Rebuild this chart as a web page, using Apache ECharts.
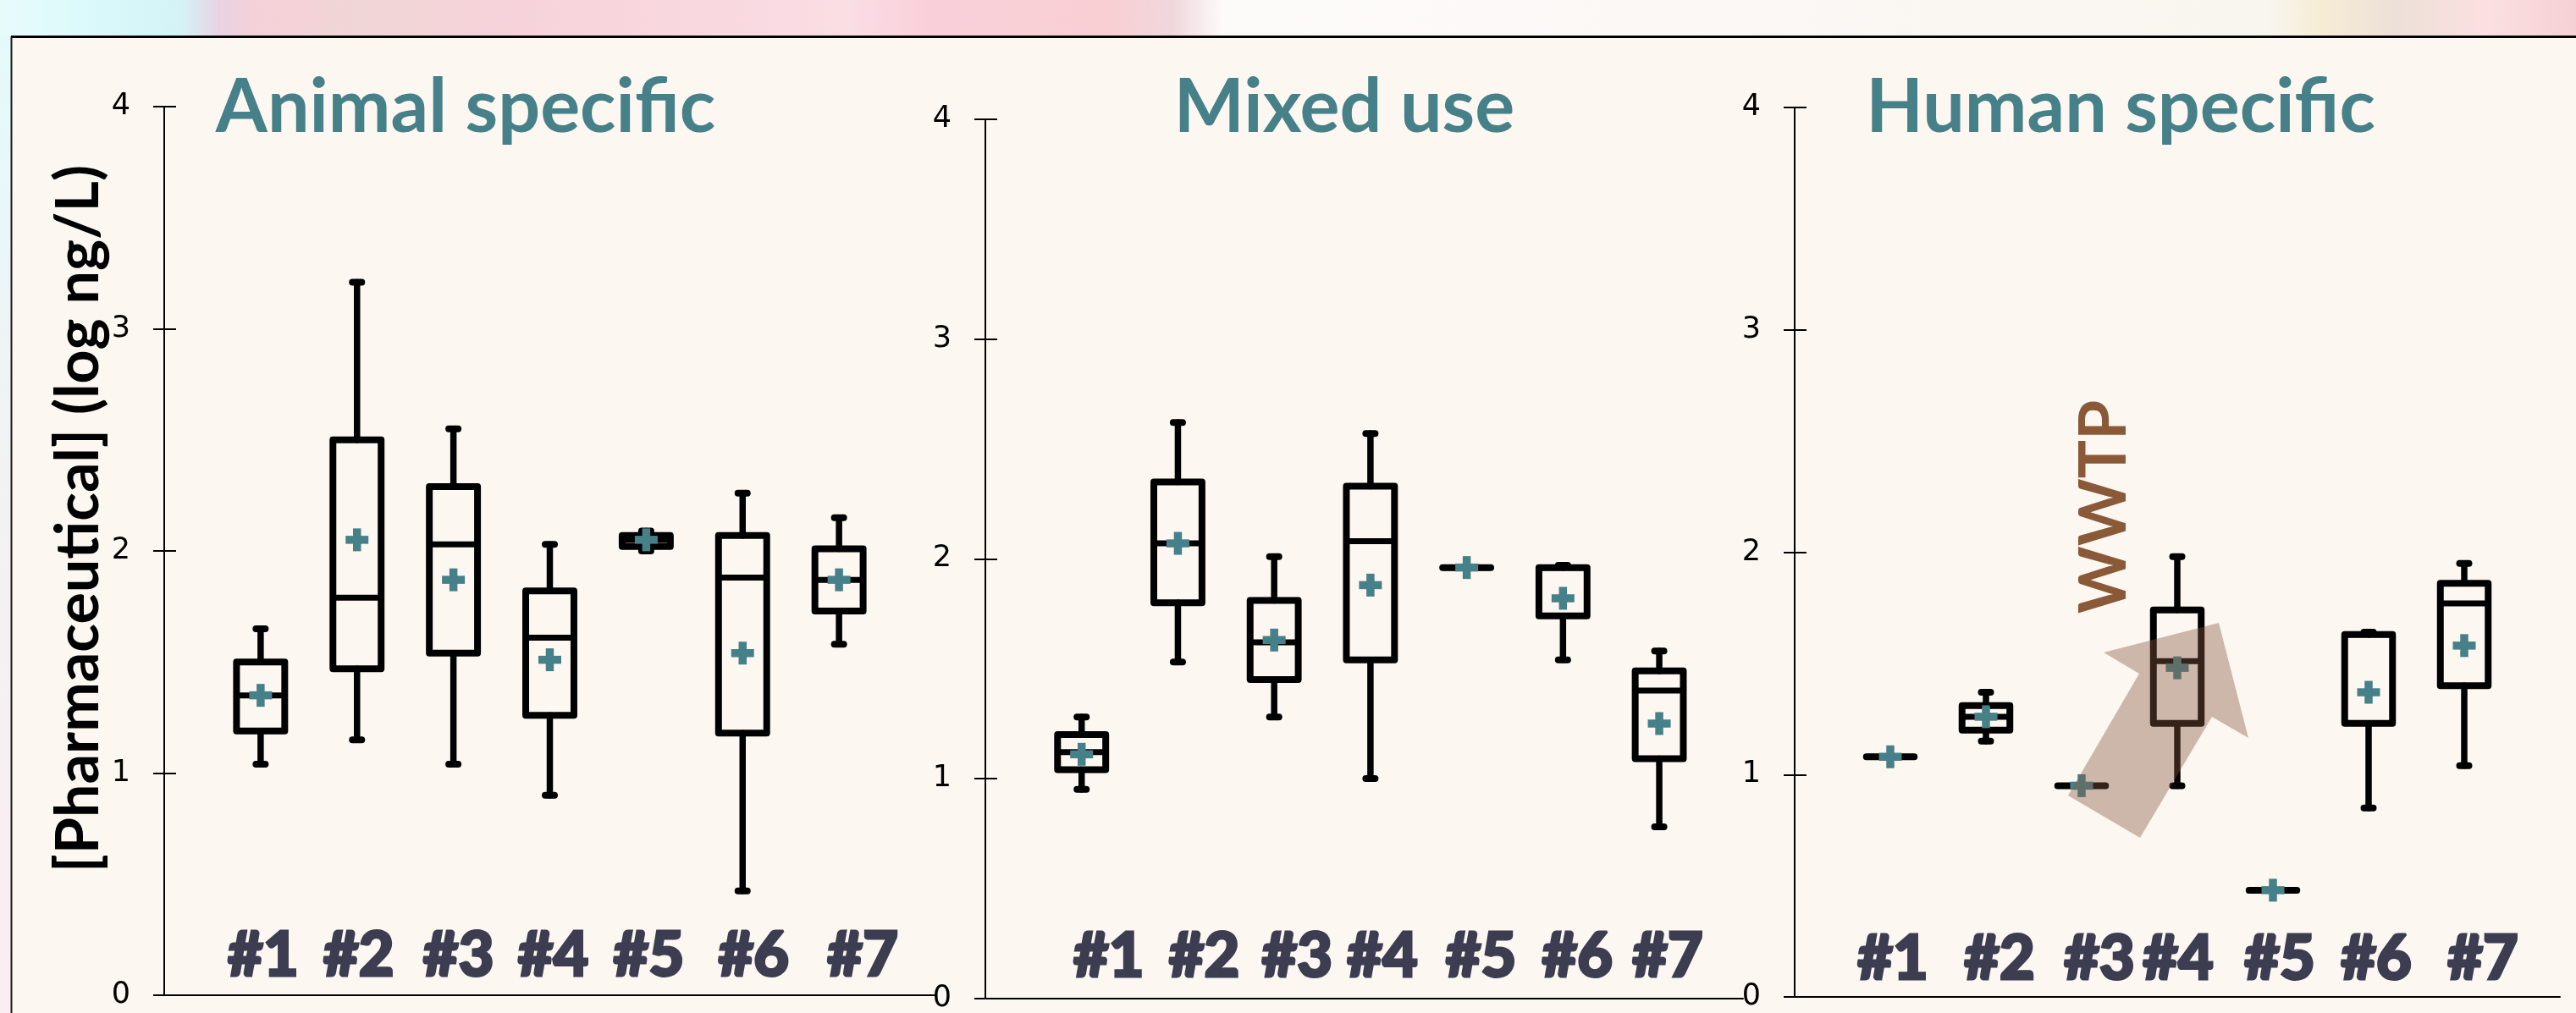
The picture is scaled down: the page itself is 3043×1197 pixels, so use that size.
<!DOCTYPE html>
<html><head><meta charset="utf-8">
<script src="https://cdn.jsdelivr.net/npm/echarts@6/dist/echarts.min.js"></script>
<style>html,body{margin:0;padding:0;background:#fdf7f1}#c{width:3043px;height:1197px}</style>
</head><body><div id="c"></div>
<script>
// ---------- data ----------
const categories = ['#1', '#2', '#3', '#4', '#5', '#6', '#7'];
const panelTitles = ['Animal specific', 'Mixed use', 'Human specific'];
const yAxisName = '[Pharmaceutical] (log ng/L)';
const annotationText = 'WWTP';
const yTickValues = [0, 1, 2, 3, 4];

// Animal specific
const animalLow    = [1.04, 1.15, 1.04, 0.90, 2.00, 0.47, 1.58];
const animalQ1     = [1.19, 1.47, 1.54, 1.26, 2.02, 1.18, 1.73];
const animalMedian = [1.35, 1.79, 2.03, 1.61, 2.05, 1.88, 1.87];
const animalQ3     = [1.50, 2.50, 2.29, 1.82, 2.07, 2.07, 2.01];
const animalHigh   = [1.65, 3.21, 2.55, 2.03, 2.09, 2.26, 2.15];
const animalMean   = [1.35, 2.05, 1.87, 1.51, 2.05, 1.54, 1.87];

// Mixed use
const mixedLow    = [0.95, 1.53, 1.28, 1.00, 1.96, 1.54, 0.78];
const mixedQ1     = [1.04, 1.80, 1.45, 1.54, 1.96, 1.74, 1.09];
const mixedMedian = [1.12, 2.07, 1.62, 2.08, 1.96, 1.96, 1.40];
const mixedQ3     = [1.20, 2.35, 1.81, 2.33, 1.96, 1.96, 1.49];
const mixedHigh   = [1.28, 2.62, 2.01, 2.57, 1.96, 1.97, 1.58];
const mixedMean   = [1.11, 2.07, 1.63, 1.88, 1.96, 1.82, 1.25];

// Human specific
const humanLow    = [1.08, 1.15, 0.95, 0.95, 0.48, 0.85, 1.04];
const humanQ1     = [1.08, 1.20, 0.95, 1.23, 0.48, 1.23, 1.40];
const humanMedian = [1.08, 1.26, 0.95, 1.51, 0.48, 1.63, 1.77];
const humanQ3     = [1.08, 1.31, 0.95, 1.74, 0.48, 1.63, 1.86];
const humanHigh   = [1.08, 1.37, 0.95, 1.98, 0.48, 1.64, 1.95];
const humanMean   = [1.08, 1.26, 0.95, 1.48, 0.48, 1.37, 1.58];

const panels = [
  [animalLow, animalQ1, animalMedian, animalQ3, animalHigh, animalMean],
  [mixedLow, mixedQ1, mixedMedian, mixedQ3, mixedHigh, mixedMean],
  [humanLow, humanQ1, humanMedian, humanQ3, humanHigh, humanMean]
];

// ---------- layout / style ----------
const layout = [
  {left: 194,  top: 126, width: 911, height: 1050, xMax: 8,    titleX: 550,  labelNudge: [3, 2, 6, 4, 3, 13, 28],     labelLift: 46},
  {left: 1164, top: 141, width: 895, height: 1042, xMax: 7.87, titleX: 1588, labelNudge: [32, 31, 27, 14, 17, 17, 10], labelLift: 49},
  {left: 2120, top: 127, width: 904, height: 1051, xMax: 8,    titleX: 2505, labelNudge: [3, 16, 21, 1, 8, 9, 22],    labelLift: 44}
];
const TEAL = '#468088';
const LABEL = '#3d3d52';
const BG = '#fdf7f1';

function renderBox(params, api) {
  const x = api.value(0);
  const xc = api.coord([x, 0])[0];
  const py = v => api.coord([x, v])[1];
  const yL = py(api.value(1)), y1 = py(api.value(2)), yM = py(api.value(3)),
        y3 = py(api.value(4)), yH = py(api.value(5)), yMean = py(api.value(6));
  const hw = api.size([1, 0])[0] * 0.25;
  const capW = 5.5, pl = 13.5;
  const wst = {stroke: '#000', lineWidth: 7.5, lineCap: 'round', fill: null};
  const bst = {stroke: '#000', lineWidth: 8, lineJoin: 'round', lineCap: 'round', fill: null};
  return {
    type: 'group',
    children: [
      {type: 'line', shape: {x1: xc, y1: y3, x2: xc, y2: yH}, style: wst},
      {type: 'line', shape: {x1: xc, y1: y1, x2: xc, y2: yL}, style: wst},
      {type: 'line', shape: {x1: xc - capW, y1: yH, x2: xc + capW, y2: yH}, style: bst},
      {type: 'line', shape: {x1: xc - capW, y1: yL, x2: xc + capW, y2: yL}, style: bst},
      {type: 'polygon', shape: {points: [[xc - hw, y3], [xc + hw, y3], [xc + hw, y1], [xc - hw, y1]]}, style: bst},
      {type: 'line', shape: {x1: xc - hw, y1: yM, x2: xc + hw, y2: yM}, style: {stroke: '#000', lineWidth: 7, lineCap: 'butt'}},
      {type: 'line', shape: {x1: xc - pl, y1: yMean, x2: xc + pl, y2: yMean}, style: {stroke: TEAL, lineWidth: 9.5}},
      {type: 'line', shape: {x1: xc, y1: yMean - pl, x2: xc, y2: yMean + pl}, style: {stroke: TEAL, lineWidth: 9.5}}
    ]
  };
}

const grid = [], xAxis = [], yAxis = [], series = [];
layout.forEach((L, i) => {
  grid.push({left: L.left, top: L.top, width: L.width, height: L.height, containLabel: false});
  const spacing = L.width / L.xMax;
  xAxis.push({
    type: 'value', gridIndex: i, min: 0, max: L.xMax, position: 'bottom',
    axisLine: {show: true, onZero: false, lineStyle: {color: '#000', width: 2}},
    axisTick: {show: false}, splitLine: {show: false},
    axisLabel: {
      inside: true, margin: L.labelLift, verticalAlign: 'middle',
      customValues: categories.map((c, k) => k + 1 + L.labelNudge[k] / spacing),
      formatter: v => categories[Math.round(v) - 1] || '',
      fontFamily: 'Lato', fontWeight: 900, fontSize: 72, color: LABEL,
      textBorderColor: LABEL, textBorderWidth: 3
    }
  });
  const yBase = {
    type: 'value', gridIndex: i, min: 0, max: 4, interval: 1, position: 'left',
    splitLine: {show: false}
  };
  yAxis.push(Object.assign({}, yBase, {
    axisLine: {show: true, lineStyle: {color: '#000', width: 2}},
    axisTick: {show: true, inside: false, length: 13, lineStyle: {color: '#000', width: 2}},
    axisLabel: {
      show: true, margin: 40, fontFamily: 'DejaVu Sans', fontSize: 35, color: '#000',
      customValues: yTickValues, formatter: v => String(v)
    }
  }));
  yAxis.push(Object.assign({}, yBase, {
    axisLine: {show: false},
    axisTick: {show: true, inside: true, length: 14, lineStyle: {color: '#000', width: 2}},
    axisLabel: {show: false}
  }));
  const d = panels[i];
  series.push({
    type: 'custom', xAxisIndex: i, yAxisIndex: i * 2,
    renderItem: renderBox, clip: false,
    encode: {x: 0, y: [1, 2, 3, 4, 5, 6]},
    data: categories.map((c, k) => [k + 1, d[0][k], d[1][k], d[2][k], d[3][k], d[4][k], d[5][k]])
  });
});

const graphic = [
  {type: 'rect', z: -10, shape: {x: 0, y: 0, width: 3043, height: 43}, style: {
    fill: new echarts.graphic.LinearGradient(0, 0, 1, 0, [
      {offset: 0, color: '#e8fbfb'}, {offset: 0.03, color: '#dcfafb'}, {offset: 0.07, color: '#d3f3f7'},
      {offset: 0.085, color: '#e9d3e3'}, {offset: 0.10, color: '#f5d0d8'}, {offset: 0.14, color: '#f0d6d6'},
      {offset: 0.20, color: '#f7d2da'}, {offset: 0.33, color: '#fbdde4'}, {offset: 0.36, color: '#f9d0da'},
      {offset: 0.43, color: '#f9cfd3'}, {offset: 0.455, color: '#efd8dc'}, {offset: 0.475, color: '#fdfbfa'},
      {offset: 0.88, color: '#f9f6f0'}, {offset: 0.90, color: '#f6edd6'}, {offset: 0.93, color: '#ede0d8'},
      {offset: 0.965, color: '#fbe0e0'}, {offset: 1, color: '#f6d0d4'}
    ])}},
  {type: 'rect', z: -10, shape: {x: 0, y: 43, width: 13, height: 1154}, style: {
    fill: new echarts.graphic.LinearGradient(0, 0, 0, 1, [
      {offset: 0, color: '#e4fafa'}, {offset: 0.4, color: '#f2f3f4'}, {offset: 1, color: '#fbeef2'}
    ])}},
  {type: 'line', z: -5, shape: {x1: 13, y1: 43.5, x2: 3043, y2: 43.5}, style: {stroke: '#000', lineWidth: 3}},
  {type: 'line', z: -5, shape: {x1: 13.5, y1: 43, x2: 13.5, y2: 1197}, style: {stroke: '#1a1a1a', lineWidth: 2}},
  {type: 'text', x: 93, y: 613, rotation: Math.PI / 2, style: {
    text: yAxisName, align: 'center', verticalAlign: 'middle',
    fontFamily: 'Lato', fontWeight: 'bold', fontSize: 70, fill: '#000'}},
  {type: 'text', x: 2486, y: 599, rotation: Math.PI / 2, style: {
    text: annotationText, align: 'center', verticalAlign: 'middle',
    fontFamily: 'Lato', fontWeight: 'bold', fontSize: 76, fill: '#8a5a38'}},
  {type: 'polygon', z: 100, shape: {points: [
    [2485, 771], [2621, 736], [2656, 872], [2613, 847], [2528, 990], [2443, 940], [2527, 796]
  ]}, style: {fill: 'rgba(133,88,65,0.4)'}}
];
layout.forEach((L, i) => {
  graphic.push({type: 'text', x: L.titleX, y: 128, style: {
    text: panelTitles[i], align: 'center', verticalAlign: 'middle',
    fontFamily: 'Lato', fontWeight: 'bold', fontSize: 88, fill: TEAL}});
});

const chart = echarts.init(document.getElementById('c'), null, {renderer: 'canvas'});
chart.setOption({backgroundColor: BG, animation: false, grid, xAxis, yAxis, series, graphic});
</script>
</body></html>
